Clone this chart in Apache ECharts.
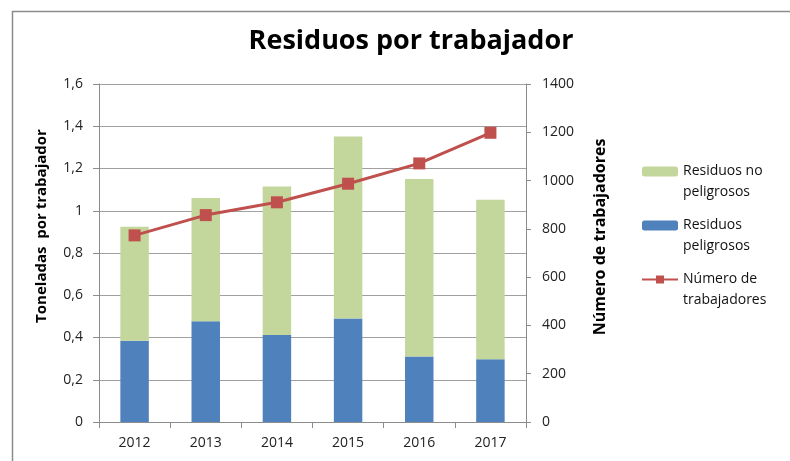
<!DOCTYPE html>
<html><head><meta charset="utf-8">
<script src="https://cdn.jsdelivr.net/npm/echarts@6/dist/echarts.min.js"></script>
<style>html,body{margin:0;padding:0;background:#fff}#c{width:790px;height:461px}</style>
</head><body><div id="c"></div>
<script>
var categories = ['2012','2013','2014','2015','2016','2017'];
var peligrosos = [0.385, 0.477, 0.412, 0.490, 0.310, 0.297];
var noPeligrosos = [0.539, 0.583, 0.703, 0.862, 0.840, 0.755];
var trabajadores = [773, 857, 910, 987, 1071, 1198];
var seriesNames = ['Residuos no\npeligrosos', 'Residuos\npeligrosos', 'Número de\ntrabajadores'];

var FONT = '"Open Sans", "Noto Sans", sans-serif';
var chart = echarts.init(document.getElementById('c'));
chart.setOption({
  animation: false,
  textStyle: {fontFamily: FONT},
  title: {
    text: 'Residuos por trabajador', left: 406, top: 23, textAlign: 'center',
    textStyle: {fontSize: 27, fontWeight: 'bold', color: '#000', fontFamily: FONT}
  },
  graphic: [{type: 'rect', left: 10, top: 9, shape: {width: 800, height: 470},
    style: {fill: 'none', stroke: '#8c8c8c', lineWidth: 1.5}, silent: true, z: -1}],
  grid: {left: 99, right: 264, top: 84, bottom: 39},
  legend: {
    orient: 'vertical', left: 636, top: 135, itemWidth: 36, itemHeight: 10, itemGap: -9,
    data: seriesNames,
    formatter: function (n) { return '\n' + n; },
    textStyle: {fontSize: 14, color: '#111', lineHeight: 21}
  },
  xAxis: {
    type: 'category', data: categories,
    axisLine: {lineStyle: {color: '#8c8c8c', width: 1}},
    axisTick: {show: true, length: 6, lineStyle: {color: '#8c8c8c'}},
    axisLabel: {fontSize: 14, color: '#222', margin: 14}
  },
  yAxis: [{
    type: 'value', min: 0, max: 1.6, interval: 0.2, position: 'left',
    name: 'Toneladas  por trabajador', nameLocation: 'middle', nameRotate: 90, nameGap: 50,
    nameTextStyle: {fontSize: 15, fontWeight: 'bold', color: '#000', padding: [0, 0, 0, 54]},
    axisLine: {show: true, lineStyle: {color: '#8c8c8c'}},
    axisTick: {show: true, length: 6, lineStyle: {color: '#8c8c8c'}},
    axisLabel: {fontSize: 14, color: '#222', margin: 16,
      formatter: function (v) { return String(+v.toFixed(1)).replace('.', ','); }},
    splitLine: {lineStyle: {color: '#a0a0a0', width: 1}}
  }, {
    type: 'value', min: 0, max: 1400, interval: 200, position: 'right',
    name: 'Número de trabajadores', nameLocation: 'middle', nameRotate: 90, nameGap: 66,
    nameTextStyle: {fontSize: 16, fontWeight: 'bold', color: '#000', padding: [0, 0, 0, 32]},
    axisLine: {show: true, lineStyle: {color: '#8c8c8c'}},
    axisTick: {show: true, length: 5, lineStyle: {color: '#8c8c8c'}},
    axisLabel: {fontSize: 14, color: '#222', margin: 16,
      formatter: function (v) { return String(v); }},
    splitLine: {show: false}
  }],
  series: [{
    name: seriesNames[1], type: 'bar', stack: 'r', data: peligrosos, barWidth: '40%',
    itemStyle: {color: '#4f81bd'}
  }, {
    name: seriesNames[0], type: 'bar', stack: 'r', data: noPeligrosos, barWidth: '40%',
    itemStyle: {color: '#c3d69b'}
  }, {
    name: seriesNames[2], type: 'line', yAxisIndex: 1, data: trabajadores,
    symbol: 'rect', symbolSize: 12,
    lineStyle: {color: '#c0504d', width: 3}, itemStyle: {color: '#c0504d'}
  }]
});
</script></body></html>
